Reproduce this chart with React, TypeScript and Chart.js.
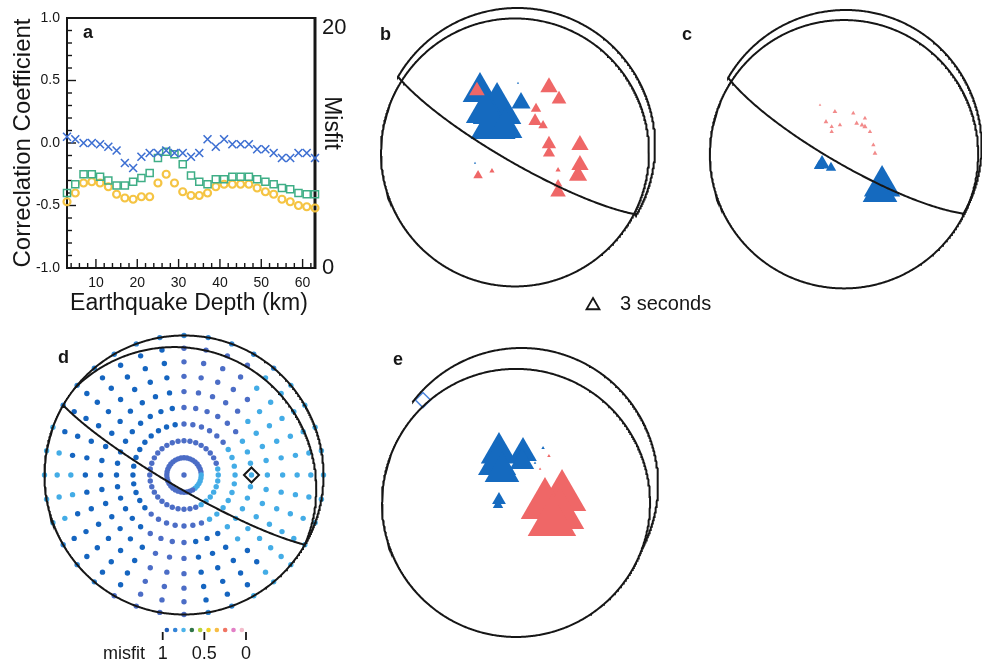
import React, { useEffect, useRef } from "react";
import { Chart, registerables } from "chart.js";

Chart.register(...registerables);

const FONT = '"Liberation Sans", Arial, Helvetica, sans-serif';
const INK = "#161616";

/* ---------------- Panel a : depth scan ---------------- */
const depthKm = [3, 5, 7, 9, 11, 13, 15, 17, 19, 21, 23, 25, 27, 29, 31, 33, 35, 37, 39, 41, 43, 45, 47, 49, 51, 53, 55, 57, 59, 61, 63];
const crossValues = [0.05, 0.03, 0.0, 0.0, -0.01, -0.03, -0.06, -0.16, -0.2, -0.11, -0.08, -0.08, -0.06, -0.08, -0.08, -0.11, -0.08, 0.03, -0.03, 0.03, -0.01, -0.01, -0.01, -0.05, -0.05, -0.08, -0.12, -0.12, -0.08, -0.08, -0.12];
const squareValues = [-0.4, -0.33, -0.25, -0.25, -0.27, -0.3, -0.34, -0.34, -0.31, -0.28, -0.24, -0.12, -0.07, -0.09, -0.17, -0.26, -0.31, -0.33, -0.29, -0.29, -0.27, -0.27, -0.27, -0.29, -0.31, -0.33, -0.36, -0.37, -0.4, -0.41, -0.41];
const circleValues = [-0.47, -0.4, -0.32, -0.31, -0.32, -0.35, -0.41, -0.44, -0.45, -0.43, -0.43, -0.32, -0.25, -0.32, -0.39, -0.42, -0.42, -0.4, -0.35, -0.33, -0.33, -0.33, -0.33, -0.36, -0.39, -0.41, -0.45, -0.47, -0.5, -0.51, -0.52];
const corrTickValues = [1, 0.5, 0, -0.5, -1];
const corrTickLabels = ["1.0", "0.5", "0.0", "-0.5", "-1.0"];
const depthTickValues = [10, 20, 30, 40, 50, 60];
const misfitAxisTicks = [20, 0];

/* ---------------- Focal sphere panels ---------------- */
// [x, y] on the unit (equal-area) focal-sphere projection, time shift in seconds
type Tri = [number, number, number];
const bBlue: Tri[] = [
  [-0.271, 0.39, 8], [-0.147, 0.259, 11.2], [-0.176, 0.143, 10.4], [-0.235, 0.245, 8.8], [-0.089, 0.129, 8],
  [0.027, 0.31, 4.4], [0.005, 0.455, 0.5], [-0.307, -0.126, 0.5],
];
const bRed: Tri[] = [
  [-0.293, 0.399, 3.6], [0.23, 0.424, 4], [0.303, 0.338, 3.4], [0.136, 0.269, 2.4], [0.129, 0.179, 3.1],
  [0.187, 0.147, 2.2], [0.23, 0.012, 3.3], [0.23, -0.053, 2.8], [0.455, 0.005, 4], [0.455, -0.14, 4],
  [0.441, -0.216, 4.2], [-0.285, -0.216, 2.2], [-0.184, -0.184, 1.2], [0.296, -0.176, 1.2],
  [0.296, -0.336, 3.6], [0.296, -0.278, 2],
];
const cBlue: Tri[] = [[0.267, -0.296, 8.4], [0.252, -0.34, 8], [-0.175, -0.134, 3.6], [-0.109, -0.161, 2.4], [-0.197, -0.149, 2.4]];
const cRed: Tri[] = [
  [-0.08, 0.251, 1.1], [-0.146, 0.177, 1.1], [-0.104, 0.141, 1.0], [-0.104, 0.104, 1.0], [-0.043, 0.153, 1.0],
  [0.055, 0.239, 1.0], [0.08, 0.166, 1.1], [0.141, 0.203, 1.0], [0.141, 0.141, 1.2], [0.119, 0.153, 1.1],
  [0.178, 0.104, 1.0], [0.203, 0.006, 1.0], [0.215, -0.055, 1.1], [-0.19, 0.3, 0.6],
];
const eBlue: Tri[] = [
  [-0.165, 0.231, 8.4], [-0.179, 0.15, 8.8], [-0.143, 0.092, 8], [0.011, 0.231, 6.4], [0.004, 0.165, 5.6],
  [-0.165, -0.114, 3.2], [-0.172, -0.15, 2.4], [0.158, 0.267, 0.8], [0.099, 0.158, 0.6],
];
const eRed: Tri[] = [
  [0.297, -0.092, 11.2], [0.172, -0.15, 11.2], [0.282, -0.223, 11.2], [0.223, -0.275, 11.2],
  [0.201, 0.209, 0.8], [0.136, 0.114, 0.6],
];
// nodal planes: [strike, dip] (deg)
const bNodalPlane = [120, 80];
const cNodalPlane = [120, 79];
const dNodalPlane = [120, 82];
// full circle drawn with each sphere: [centre x, centre y, radius] in units of the sphere radius
const bAuxCircle = [-0.017, -0.049, 0.973];
const cAuxCircle = [-0.013, -0.062, 0.988];
const dAuxCircle = [-0.068, -0.099, 1.016];
const eAuxCircle = [-0.04, -0.135, 0.982];
// visible part of the outer arc: [from, to] (deg, counter-clockwise from east)
const bOuterArc = [-31, 150];
const cOuterArc = [-31, 150];
const eOuterArc = [-28, 143];
const eBestSolution = [-0.722, 0.619];
const legendSeconds = 3;

/* ---------------- Panel d : grid search ---------------- */
const dTakeoffDeg = [10, 20, 30, 40, 50, 60, 70, 80, 90];
const dAzimuthsPerRing = 36;
const dCenterClass = "M";
const dRingRuns: [string, number][][] = [
  [["M", 9], ["L", 6], ["M", 21]],
  [["M", 8], ["L", 8], ["M", 20]],
  [["M", 6], ["L", 10], ["M", 7], ["D", 13]],
  [["M", 6], ["L", 9], ["D", 3], ["M", 4], ["D", 14]],
  [["M", 5], ["L", 10], ["D", 3], ["M", 3], ["D", 15]],
  [["M", 5], ["L", 9], ["D", 4], ["M", 3], ["D", 15]],
  [["M", 4], ["L", 10], ["D", 4], ["M", 3], ["D", 5], ["L", 2], ["D", 8]],
  [["M", 4], ["L", 11], ["D", 3], ["M", 3], ["D", 4], ["L", 4], ["D", 7]],
  [["B", 5], ["L", 11], ["B", 2], ["M", 4], ["B", 3], ["L", 5], ["B", 6]],
];
const dBestSolution = [40, 90]; // takeoff, azimuth
const misfitBinCenters = [0.95, 0.85, 0.75, 0.65, 0.55, 0.45, 0.35, 0.25, 0.15, 0.05];
const misfitScaleTicks = [1, 0.5, 0];

/* ---------------- styles ---------------- */
const BLUE = "#156abf";
const RED = "#ef6767";
const CLASS_COLORS: Record<string, string> = { D: "#1565c0", M: "#4c6dc6", L: "#43ace6", B: "#2f86d5" };
const BIN_COLORS = ["#1f5db8", "#3384d8", "#4cb3ea", "#2f7447", "#b4d23a", "#f2d226", "#f7bd45", "#f07463", "#e27fc6", "#f3bccb"];
const SEC_TO_PX = 2.5;

type Box = { left: number; top: number; width: number; height: number; cx?: number; cy?: number; R?: number };
const A_BOX: Box = { left: 0, top: 0, width: 350, height: 320 };
const B_BOX: Box = { left: 375, top: 0, width: 295, height: 318, cx: 517.3, cy: 145.7, R: 137.7 };
const C_BOX: Box = { left: 700, top: 0, width: 282, height: 295, cx: 845.8, cy: 145.8, R: 135.8 };
const D_BOX: Box = { left: 35, top: 325, width: 300, height: 300, cx: 184, cy: 475, R: 139.5 };
const E_BOX: Box = { left: 375, top: 335, width: 300, height: 320, cx: 521.5, cy: 484.5, R: 136.5 };
const CB_BOX: Box = { left: 140, top: 618, width: 125, height: 46 };
const LEGEND_TRI_PAGE = { x: 593, y: 305.5 };

const baseOptions = {
  animation: false,
  responsive: false,
  devicePixelRatio: 1,
  events: [],
  plugins: { legend: { display: false }, tooltip: { enabled: false } },
};

/* ---------------- geometry helpers ---------------- */
function circlePts(ox: number, oy: number, rho: number, keep?: (x: number, y: number) => boolean, n = 720) {
  const pts = [];
  for (let i = 0; i <= n; i++) {
    const a = (2 * Math.PI * i) / n;
    const x = ox + rho * Math.cos(a), y = oy + rho * Math.sin(a);
    pts.push(!keep || keep(x, y) ? { x, y } : { x, y: null });
  }
  return pts;
}
function arcPts(fromDeg: number, toDeg: number, n = 360) {
  const pts = [];
  for (let i = 0; i <= n; i++) {
    const a = ((fromDeg + ((toDeg - fromDeg) * i) / n) * Math.PI) / 180;
    pts.push({ x: Math.cos(a), y: Math.sin(a) });
  }
  return pts;
}
const insideUnit = (x: number, y: number) => Math.hypot(x, y) < 1;

function project(plungeRad: number, trendRad: number) {
  const r = Math.SQRT2 * Math.sin((Math.PI / 2 - plungeRad) / 2);
  return { x: r * Math.sin(trendRad), y: r * Math.cos(trendRad) };
}
function greatCirclePts(strike: number, dip: number, n = 180) {
  const rad = Math.PI / 180;
  const phi = strike * rad, del = dip * rad, dd = phi + Math.PI / 2;
  const pts = [];
  for (let i = 0; i <= n; i++) {
    const t = (Math.PI * i) / n;
    const vN = Math.cos(t) * Math.cos(phi) + Math.sin(t) * Math.cos(dd) * Math.cos(del);
    const vE = Math.cos(t) * Math.sin(phi) + Math.sin(t) * Math.sin(dd) * Math.cos(del);
    const vD = Math.sin(t) * Math.sin(del);
    pts.push(project(Math.asin(Math.min(1, vD)), Math.atan2(vE, vN)));
  }
  return pts;
}
const lineSet = (pts: any[], width = 2) => ({
  data: pts, showLine: true, spanGaps: false, borderColor: INK, borderWidth: width, pointRadius: 0, fill: false, tension: 0, clip: false,
});
const triSet = (arr: Tri[], color: string) => ({
  data: arr.map(([x, y]) => ({ x, y })),
  pointStyle: "triangle",
  pointRadius: arr.map((t) => t[2] * SEC_TO_PX),
  pointBackgroundColor: color, pointBorderColor: color, pointBorderWidth: 0, showLine: false, clip: false,
});

function sphereChart(canvas: HTMLCanvasElement, box: Box, datasets: any[]) {
  const { left, top, width, height, cx, cy, R } = box as Required<Box>;
  return new Chart(canvas, {
    type: "scatter",
    data: { datasets },
    options: {
      ...baseOptions,
      layout: { padding: 0, autoPadding: false },
      scales: {
        x: { type: "linear", display: false, min: (left - cx) / R, max: (left + width - cx) / R },
        y: { type: "linear", display: false, min: (cy - top - height) / R, max: (cy - top) / R },
      },
    },
  } as any);
}

/* ---------------- panel a ---------------- */
const panelAPlugin = {
  id: "panelAAxes",
  beforeDatasetsDraw(chart: any) {
    const { ctx, chartArea: ca, scales } = chart;
    const x = scales.x, y = scales.y;
    ctx.save();
    ctx.strokeStyle = INK;
    ctx.lineWidth = 1.4;
    for (let k = -10; k <= 10; k++) {
      const py = y.getPixelForValue(k / 10);
      const len = k % 5 === 0 ? 9 : 5;
      ctx.beginPath(); ctx.moveTo(ca.left, py); ctx.lineTo(ca.left + len, py); ctx.stroke();
    }
    for (let d = 4; d <= 62; d += 2) {
      const px = x.getPixelForValue(d);
      const len = d % 10 === 0 ? 9 : 5;
      ctx.beginPath(); ctx.moveTo(px, ca.bottom); ctx.lineTo(px, ca.bottom - len); ctx.stroke();
    }
    ctx.lineWidth = 2;
    ctx.strokeRect(ca.left, ca.top, ca.right - ca.left, ca.bottom - ca.top);
    ctx.lineWidth = 3;
    ctx.beginPath(); ctx.moveTo(ca.right, ca.top - 1); ctx.lineTo(ca.right, ca.bottom + 1); ctx.stroke();
    ctx.restore();
  },
  afterDraw(chart: any) {
    const { ctx, chartArea: ca, scales } = chart;
    const x = scales.x, y = scales.y, y2 = scales.y2;
    ctx.save();
    ctx.fillStyle = INK;
    ctx.font = `14px ${FONT}`;
    ctx.textAlign = "right"; ctx.textBaseline = "middle";
    corrTickValues.forEach((v, i) => ctx.fillText(corrTickLabels[i], ca.left - 7, y.getPixelForValue(v)));
    ctx.textAlign = "center";
    depthTickValues.forEach((d) => ctx.fillText(String(d), x.getPixelForValue(d), ca.bottom + 15));
    ctx.font = `22px ${FONT}`;
    ctx.textAlign = "left";
    misfitAxisTicks.forEach((v) => {
      const py = Math.max(y2.getPixelForValue(v), ca.top + 10);
      ctx.fillText(String(v), ca.right + 7, py);
    });
    ctx.font = `23px ${FONT}`;
    ctx.textBaseline = "alphabetic"; ctx.textAlign = "center";
    ctx.fillText("Earthquake Depth (km)", (ca.left + ca.right) / 2 - 2, 310);
    ctx.save(); ctx.translate(30, (ca.top + ca.bottom) / 2); ctx.rotate(-Math.PI / 2);
    ctx.font = `24px ${FONT}`;
    ctx.fillText("Correclation Coefficient", 0, 0); ctx.restore();
    ctx.save(); ctx.translate(325, 123); ctx.rotate(Math.PI / 2);
    ctx.fillText("Misfit", 0, 0); ctx.restore();
    ctx.font = `bold 18px ${FONT}`; ctx.textAlign = "left";
    ctx.fillText("a", 83, 38);
    ctx.restore();
  },
};

function makePanelA(canvas: HTMLCanvasElement) {
  const pts = (vals: number[]) => depthKm.map((d, i) => ({ x: d, y: vals[i] }));
  return new Chart(canvas, {
    type: "scatter",
    data: {
      datasets: [
        { data: pts(crossValues), pointStyle: "crossRot", pointRadius: 5.6, pointBorderWidth: 1.6, pointBorderColor: "#3d6fd2", pointBackgroundColor: "#3d6fd2", clip: false },
        { data: pts(squareValues), pointStyle: "rect", pointRadius: 5, pointBorderWidth: 1.5, pointBorderColor: "#3fae86", pointBackgroundColor: "rgba(255,255,255,0)", clip: false },
        { data: pts(circleValues), pointStyle: "circle", pointRadius: 3.5, pointBorderWidth: 2.2, pointBorderColor: "#f5c443", pointBackgroundColor: "rgba(255,255,255,0)", clip: false },
      ],
    },
    options: {
      ...baseOptions,
      layout: { padding: { left: 67, top: 18, right: 35, bottom: 52 }, autoPadding: false },
      scales: {
        x: { type: "linear", display: false, min: 3, max: 63 },
        y: { type: "linear", display: false, min: -1, max: 1 },
        y2: { type: "linear", display: false, position: "right", min: 0, max: 20 },
      },
    },
    plugins: [panelAPlugin],
  } as any);
}

/* ---------------- panels b, c, e ---------------- */
function makePanelB(canvas: HTMLCanvasElement) {
  const { cx, cy, R } = B_BOX as Required<Box>;
  return sphereChart(canvas, B_BOX, [
    lineSet(arcPts(bOuterArc[0], bOuterArc[1])),
    lineSet(circlePts(bAuxCircle[0], bAuxCircle[1], bAuxCircle[2])),
    lineSet(greatCirclePts(bNodalPlane[0], bNodalPlane[1])),
    {
      data: [{ x: (LEGEND_TRI_PAGE.x - cx) / R, y: (cy - LEGEND_TRI_PAGE.y) / R }],
      pointStyle: "triangle", pointRadius: legendSeconds * SEC_TO_PX,
      pointBackgroundColor: "rgba(255,255,255,0)", pointBorderColor: INK, pointBorderWidth: 1.8, clip: false,
    },
    triSet(bRed, RED),
    triSet(bBlue, BLUE),
  ]);
}
function makePanelC(canvas: HTMLCanvasElement) {
  return sphereChart(canvas, C_BOX, [
    lineSet(arcPts(cOuterArc[0], cOuterArc[1])),
    lineSet(circlePts(cAuxCircle[0], cAuxCircle[1], cAuxCircle[2])),
    lineSet(greatCirclePts(cNodalPlane[0], cNodalPlane[1])),
    triSet(cRed, "#f28a8a"),
    triSet(cBlue, BLUE),
  ]);
}
function makePanelE(canvas: HTMLCanvasElement) {
  return sphereChart(canvas, E_BOX, [
    lineSet(arcPts(eOuterArc[0], eOuterArc[1])),
    lineSet(circlePts(eAuxCircle[0], eAuxCircle[1], eAuxCircle[2])),
    {
      data: [{ x: eBestSolution[0], y: eBestSolution[1] }], pointStyle: "rectRot", pointRadius: 7.5,
      pointBackgroundColor: "rgba(255,255,255,0)", pointBorderColor: "#4d86dc", pointBorderWidth: 1.6, clip: false,
    },
    triSet(eRed, RED),
    triSet(eBlue, BLUE),
  ]);
}

/* ---------------- panel d ---------------- */
function makePanelD(canvas: HTMLCanvasElement) {
  const rad = Math.PI / 180;
  const pts: { x: number; y: number }[] = [{ x: 0, y: 0 }];
  const cols: string[] = [CLASS_COLORS[dCenterClass]];
  dTakeoffDeg.forEach((tk, ri) => {
    const classes: string[] = [];
    dRingRuns[ri].forEach(([c, n]) => { for (let k = 0; k < n; k++) classes.push(c); });
    for (let i = 0; i < dAzimuthsPerRing; i++) {
      pts.push(project(Math.PI / 2 - tk * rad, ((i * 360) / dAzimuthsPerRing) * rad));
      cols.push(CLASS_COLORS[classes[i]]);
    }
  });
  const best = project(Math.PI / 2 - dBestSolution[0] * rad, dBestSolution[1] * rad);
  return sphereChart(canvas, D_BOX, [
    lineSet(circlePts(0, 0, 1)),
    lineSet(circlePts(dAuxCircle[0], dAuxCircle[1], dAuxCircle[2], insideUnit)),
    lineSet(greatCirclePts(dNodalPlane[0], dNodalPlane[1])),
    {
      data: [best], pointStyle: "rectRot", pointRadius: 7.5,
      pointBackgroundColor: "rgba(255,255,255,0)", pointBorderColor: INK, pointBorderWidth: 2, clip: false,
    },
    { data: pts, pointStyle: "circle", pointRadius: 2.7, pointBackgroundColor: cols, pointBorderWidth: 0, clip: false },
  ]);
}

const colorbarPlugin = {
  id: "misfitBar",
  afterDraw(chart: any) {
    const { ctx, scales } = chart;
    const x = scales.x;
    ctx.save();
    ctx.strokeStyle = INK; ctx.fillStyle = INK; ctx.lineWidth = 1.8;
    ctx.font = `18px ${FONT}`; ctx.textAlign = "center"; ctx.textBaseline = "alphabetic";
    misfitScaleTicks.forEach((v) => {
      const px = x.getPixelForValue(v);
      ctx.beginPath(); ctx.moveTo(px, 14); ctx.lineTo(px, 22); ctx.stroke();
      ctx.fillText(String(v), px, 41);
    });
    ctx.restore();
  },
};
function makeColorbar(canvas: HTMLCanvasElement) {
  return new Chart(canvas, {
    type: "scatter",
    data: {
      datasets: [{
        data: misfitBinCenters.map((v) => ({ x: v, y: 0 })), pointStyle: "circle", pointRadius: 2.3,
        pointBackgroundColor: BIN_COLORS, pointBorderWidth: 0, clip: false,
      }],
    },
    options: {
      ...baseOptions,
      layout: { padding: { left: 22.7, right: 19, top: 0, bottom: 22 }, autoPadding: false },
      scales: {
        x: { type: "linear", display: false, min: 0, max: 1, reverse: true },
        y: { type: "linear", display: false, min: -1, max: 1 },
      },
    },
    plugins: [colorbarPlugin],
  } as any);
}

/* ---------------- React ---------------- */
function ChartCanvas({ box, make }: { box: Box; make: (c: HTMLCanvasElement) => Chart }) {
  const ref = useRef<HTMLCanvasElement>(null);
  useEffect(() => {
    const chart = make(ref.current as HTMLCanvasElement);
    return () => chart.destroy();
  }, []);
  return (
    <canvas
      ref={ref}
      width={box.width}
      height={box.height}
      style={{ position: "absolute", left: box.left, top: box.top, width: box.width, height: box.height }}
    />
  );
}

function Txt({ x, y, size, bold, children }: { x: number; y: number; size: number; bold?: boolean; children: any }) {
  return (
    <div
      style={{
        position: "absolute", left: x, top: y - 0.8465 * size, fontSize: size, lineHeight: `${size}px`,
        fontWeight: bold ? "bold" : "normal", fontFamily: FONT, whiteSpace: "nowrap", color: INK,
      }}
    >
      {children}
    </div>
  );
}

export default function App() {
  return (
    <div style={{ position: "absolute", left: 0, top: 0, width: 982, height: 664, background: "#fff", overflow: "hidden" }}>
      <ChartCanvas box={A_BOX} make={makePanelA} />
      <ChartCanvas box={B_BOX} make={makePanelB} />
      <ChartCanvas box={C_BOX} make={makePanelC} />
      <ChartCanvas box={D_BOX} make={makePanelD} />
      <ChartCanvas box={E_BOX} make={makePanelE} />
      <ChartCanvas box={CB_BOX} make={makeColorbar} />
      <Txt x={380} y={40} size={18} bold>b</Txt>
      <Txt x={682} y={40} size={18} bold>c</Txt>
      <Txt x={58} y={363} size={18} bold>d</Txt>
      <Txt x={393} y={365} size={18} bold>e</Txt>
      <Txt x={620} y={310} size={20}>3 seconds</Txt>
      <Txt x={103} y={659} size={18}>misfit</Txt>
    </div>
  );
}
